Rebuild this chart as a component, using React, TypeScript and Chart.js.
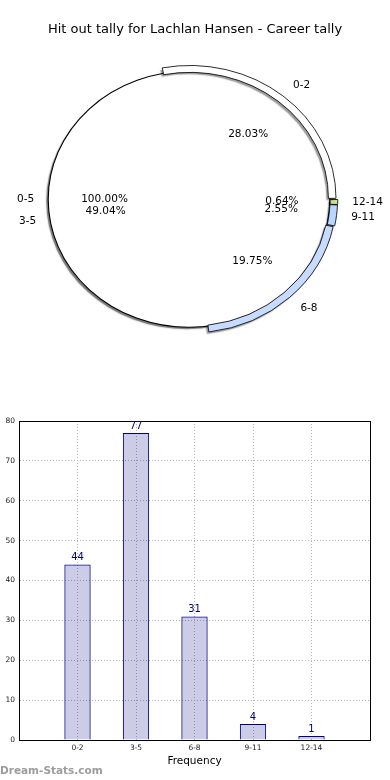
import React, { useEffect, useRef } from 'react';
import { Chart, registerables } from 'chart.js';

Chart.register(...registerables);

// ---- data ----
const chartTitle = 'Hit out tally for Lachlan Hansen - Career tally';
const categories = ['0-2', '3-5', '6-8', '9-11', '12-14'];
const tallies = [44, 77, 31, 4, 1];
const groupLabel = '0-5';
const sliceColors = ['#ffffff', 'rgba(0,0,0,0)', '#c6dbff', '#b9d6ff', '#c6e28c'];
const yMax = 80;
const yStep = 10;
const xAxisTitle = 'Frequency';
const watermark = 'Dream-Stats.com';

const FONT = '"DejaVu Sans", sans-serif';

function PieChart() {
  const ref = useRef<HTMLCanvasElement>(null);
  useEffect(() => {
    const canvas = ref.current;
    if (!canvas) return;
    const total = tallies.reduce((a, b) => a + b, 0);
    const order = categories.map((_, i) => categories.length - 1 - i);
    const SX = 1.1;
    const SHIFT = -6;
    const RING_K = 0.984;
    const EXPLODE = 0.06;

    const ellipse = {
      id: 'ellipse',
      beforeDatasetsDraw(chart: any) {
        const ctx = chart.ctx;
        const disk = chart.getDatasetMeta(1).data[0];
        const cx = disk.x;
        const cy = disk.y;
        ctx.save();
        ctx.translate(cx + SHIFT, cy);
        ctx.scale(SX, 1);
        ctx.translate(-cx, -cy);
      },
      beforeDatasetDraw(chart: any, args: any) {
        const ctx = chart.ctx;
        const disk = chart.getDatasetMeta(1).data[0];
        ctx.save();
        if (args.index === 0) {
          ctx.translate(disk.x, disk.y);
          ctx.scale(RING_K, RING_K);
          ctx.translate(-disk.x, -disk.y);
        }
        ctx.shadowColor = args.index === 0 ? 'rgba(0,0,0,0.4)' : 'rgba(0,0,0,0.55)';
        ctx.shadowOffsetX = -2;
        ctx.shadowOffsetY = 2;
        ctx.shadowBlur = 1.2;
        const orig = CanvasRenderingContext2D.prototype.stroke;
        ctx.stroke = function (...a: any[]) {
          const c = this.shadowColor;
          this.shadowColor = 'rgba(0,0,0,0)';
          orig.apply(this, a as any);
          this.shadowColor = c;
        };
      },
      afterDatasetDraw(chart: any, args: any) {
        const ctx = chart.ctx;
        delete ctx.stroke;
        if (args.index === 1) {
          const disk = chart.getDatasetMeta(1).data[0];
          ctx.shadowColor = 'rgba(0,0,0,0)';
          ctx.strokeStyle = '#000';
          ctx.lineWidth = 1;
          ctx.beginPath();
          ctx.arc(disk.x, disk.y, disk.outerRadius, 0, Math.PI * 2);
          ctx.stroke();
        }
        ctx.restore();
      },
      afterDatasetsDraw(chart: any) {
        const ctx = chart.ctx;
        ctx.restore();
        const disk = chart.getDatasetMeta(1).data[0];
        const ring = chart.getDatasetMeta(0).data;
        const R = disk.outerRadius;
        const cx = disk.x;
        const cy = disk.y;
        const put = (angle: number, rf: number, text: string, isLabel: boolean) => {
          const x = cx + SHIFT + Math.cos(angle) * rf * R * SX;
          const y = cy + Math.sin(angle) * rf * R;
          ctx.textAlign = isLabel ? (Math.cos(angle) >= 0 ? 'left' : 'right') : 'center';
          ctx.fillText(text, x, y);
        };
        ctx.save();
        ctx.font = `10.5px ${FONT}`;
        ctx.fillStyle = '#000';
        ctx.textBaseline = 'middle';
        const dMid = (disk.startAngle + disk.endAngle) / 2;
        put(dMid, 1.1, groupLabel, true);
        put(dMid, 0.6, ((total / total) * 100).toFixed(2) + '%', false);
        ring.forEach((arc: any, j: number) => {
          const idx = order[j];
          const mid = (arc.startAngle + arc.endAngle) / 2;
          const sh = arc.options.offset > 0 ? EXPLODE : 0;
          put(mid, 1.1 + sh, categories[idx], true);
          put(mid, 0.6 + sh, ((tallies[idx] / total) * 100).toFixed(2) + '%', false);
        });
        ctx.restore();
      },
    };

    const chart = new Chart(canvas, {
      type: 'pie',
      data: {
        labels: order.map((i) => categories[i]),
        datasets: [
          {
            data: order.map((i) => tallies[i]),
            backgroundColor: order.map((i) => sliceColors[i]),
            borderColor: order.map((i) => (sliceColors[i] === 'rgba(0,0,0,0)' ? 'rgba(0,0,0,0)' : '#000')),
            borderWidth: order.map((i) => (sliceColors[i] === 'rgba(0,0,0,0)' ? 0 : 0.8)),
            offset: order.map((i) => (sliceColors[i] === 'rgba(0,0,0,0)' ? 0 : 5)),
            weight: 7,
          } as any,
          {
            data: [total],
            backgroundColor: ['#ffffff'],
            borderColor: '#000',
            borderWidth: 0,
            weight: 128,
          } as any,
        ],
      },
      options: {
        animation: false,
        responsive: false,
        rotation: 90,
        radius: 135,
        layout: { padding: { top: 0, left: 0, right: 0, bottom: 39 } },
        plugins: {
          legend: { display: false },
          tooltip: { enabled: false },
          title: {
            display: true,
            text: chartTitle,
            color: '#000',
            font: { size: 13, family: FONT, weight: 'normal' },
            padding: { top: 22, bottom: 0 },
          },
        },
      } as any,
      plugins: [ellipse],
    });
    return () => chart.destroy();
  }, []);
  return (
    <canvas
      ref={ref}
      width={390}
      height={400}
      style={{ position: 'absolute', left: 0, top: 0, width: 390, height: 400 }}
    />
  );
}

function BarChart() {
  const ref = useRef<HTMLCanvasElement>(null);
  useEffect(() => {
    const canvas = ref.current;
    if (!canvas) return;
    const frame = {
      id: 'frame',
      afterDatasetsDraw(chart: any) {
        const { ctx, chartArea } = chart;
        ctx.save();
        ctx.strokeStyle = '#000';
        ctx.lineWidth = 1;
        ctx.strokeRect(
          Math.round(chartArea.left) + 0.5,
          Math.round(chartArea.top) + 0.5,
          Math.round(chartArea.right - chartArea.left),
          Math.round(chartArea.bottom - chartArea.top)
        );
        const meta = chart.getDatasetMeta(0);
        ctx.font = `10px ${FONT}`;
        ctx.fillStyle = '#000080';
        ctx.textAlign = 'center';
        ctx.textBaseline = 'bottom';
        meta.data.forEach((bar: any, i: number) => {
          ctx.fillText(String(tallies[i]), bar.x, bar.y - 2);
        });
        ctx.restore();
      },
    };
    const chart = new Chart(canvas, {
      type: 'bar',
      data: {
        datasets: [
          {
            data: tallies.map((v, i) => ({ x: i + 1, y: v })),
            backgroundColor: 'rgba(0,0,128,0.2)',
            borderColor: '#000080',
            borderWidth: 1,
            barPercentage: 0.45,
            categoryPercentage: 1,
          } as any,
        ],
      },
      options: {
        animation: false,
        responsive: false,
        layout: { padding: { top: 21, right: 20, left: 0, bottom: 0 } },
        plugins: { legend: { display: false }, tooltip: { enabled: false } },
        scales: {
          x: {
            type: 'linear',
            min: 0,
            max: categories.length + 1,
            offset: false,
            ticks: {
              stepSize: 1,
              autoSkip: false,
              maxRotation: 0,
              padding: 4,
              color: '#222',
              font: { size: 7.5, family: FONT },
              callback: (v: any) => categories[Number(v) - 1] ?? '',
            },
            grid: { color: '#b4b4b4', lineWidth: 1, drawTicks: false, offset: false },
            border: { color: '#000', dash: [1, 2] },
            title: {
              display: true,
              text: xAxisTitle,
              color: '#000',
              font: { size: 10.5, family: FONT },
              padding: { top: 0, bottom: 12 },
            },
            afterFit: (s: any) => {
              s.height = 40;
            },
          },
          y: {
            min: 0,
            max: yMax,
            ticks: {
              stepSize: yStep,
              padding: 4,
              color: '#222',
              font: { size: 7.5, family: FONT },
            },
            grid: { color: '#b4b4b4', lineWidth: 1, drawTicks: false },
            border: { color: '#000', dash: [1, 2] },
            afterFit: (s: any) => {
              s.width = 19;
            },
          },
        },
      } as any,
      plugins: [frame],
    });
    return () => chart.destroy();
  }, []);
  return (
    <canvas
      ref={ref}
      width={390}
      height={380}
      style={{ position: 'absolute', left: 0, top: 400, width: 390, height: 380 }}
    />
  );
}

export default function App() {
  return (
    <div style={{ position: 'absolute', left: 0, top: 0, width: 390, height: 780, background: '#fff', overflow: 'hidden' }}>
      <PieChart />
      <BarChart />
      <div
        style={{
          position: 'absolute',
          left: 0,
          top: 762,
          fontFamily: FONT,
          fontWeight: 'bold',
          fontSize: 10.5,
          color: '#9c9c9c',
          lineHeight: '16px',
          whiteSpace: 'nowrap',
        }}
      >
        {watermark}
      </div>
    </div>
  );
}
